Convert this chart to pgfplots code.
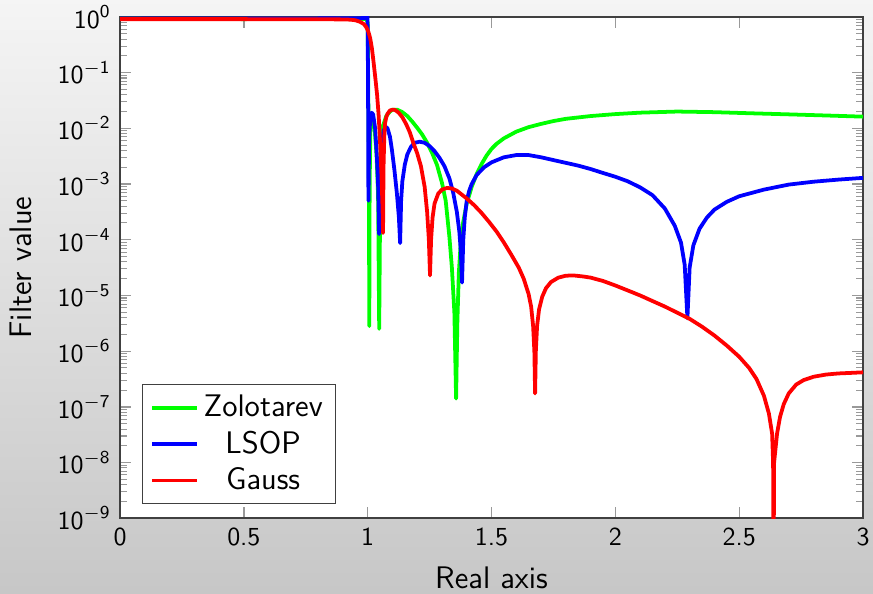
\documentclass[border=0pt]{standalone}
\usepackage{pgfplots}
\pgfplotsset{compat=1.18}
\usetikzlibrary{backgrounds}
\renewcommand{\familydefault}{\sfdefault}
\definecolor{zgreen}{RGB}{0,255,0}
\definecolor{lblue}{RGB}{0,0,255}
\definecolor{gred}{RGB}{255,0,0}
\begin{document}
\begin{tikzpicture}
\begin{axis}[
  scale only axis, width=286pt, height=193pt,
  axis background/.style={fill=white},
  ymode=log, xmin=0, xmax=3, ymin=1e-9, ymax=1,
  xtick={0,0.5,1,1.5,2,2.5,3},
  xticklabels={0,0.5,1,1.5,2,2.5,3},
  ytick={1e-9,1e-8,1e-7,1e-6,1e-5,1e-4,1e-3,1e-2,1e-1,1},
  yticklabels={$\mathsf{10}^{\mathsf{-9}}$,$\mathsf{10}^{\mathsf{-8}}$,$\mathsf{10}^{\mathsf{-7}}$,$\mathsf{10}^{\mathsf{-6}}$,$\mathsf{10}^{\mathsf{-5}}$,$\mathsf{10}^{\mathsf{-4}}$,$\mathsf{10}^{\mathsf{-3}}$,$\mathsf{10}^{\mathsf{-2}}$,$\mathsf{10}^{\mathsf{-1}}$,$\mathsf{10}^{\mathsf{0}}$},
  ticklabel style={font=\normalsize\sffamily},
  xlabel={Real axis}, ylabel={Filter value},
  xlabel shift=1.3pt, ylabel shift=3pt,
  label style={font=\large\sffamily},
  axis line style={black!75, line width=0.7pt},
  major tick style={black!40, line width=0.5pt},
  minor tick style={black!40, line width=0.4pt},
  legend style={at={(rel axis cs:0.0296,0.028)}, anchor=south west, font=\large\sffamily, draw=black!75, fill=white},
  legend cell align=center,
  every axis plot/.append style={line width=1.45pt, line join=round},
]
\addplot[zgreen] coordinates {
(0,9.23e-1) (0.5,9.12e-1) (0.95,9.23e-1) (0.995,9.12e-1) (1.000,7.94e-1) (1.003,2.0e-2) (1.005,1.0e-3) (1.0065,2.82e-6) (1.008,1.0e-3) (1.011,1e-2) (1.015,1.78e-2) (1.020,1.78e-2) (1.028,1e-2) (1.036,3.16e-3) (1.042,6.31e-4) (1.0465,2.51e-6) (1.051,1e-3) (1.056,5.01e-3) (1.062,1.12e-2) (1.075,1.66e-2) (1.09,2.0e-2) (1.10,2.16e-2) (1.12,2.16e-2) (1.14,1.95e-2) (1.16,1.66e-2) (1.18,1.32e-2) (1.20,1.02e-2) (1.22,7.76e-3) (1.24,5.50e-3) (1.26,3.63e-3) (1.28,2.19e-3) (1.30,1.05e-3) (1.315,5.01e-4) (1.33,1.12e-4) (1.34,3.16e-5) (1.35,5.01e-6) (1.357,1.41e-7) (1.362,3.16e-6) (1.368,2.51e-5) (1.375,7.94e-5) (1.385,2.0e-4) (1.40,4.47e-4) (1.42,8.91e-4) (1.44,1.51e-3) (1.46,2.29e-3) (1.48,3.24e-3) (1.50,4.27e-3) (1.52,5.25e-3) (1.55,6.61e-3) (1.60,8.71e-3) (1.65,1.05e-2) (1.70,1.20e-2) (1.75,1.35e-2) (1.80,1.48e-2) (1.9,1.66e-2) (2.0,1.80e-2) (2.1,1.91e-2) (2.25,2.0e-2) (2.4,1.95e-2) (2.55,1.86e-2) (2.7,1.78e-2) (2.85,1.70e-2) (3.0,1.62e-2)
};
\addlegendentry{Zolotarev}
\addplot[lblue] coordinates {
(0,9.33e-1) (0.5,9.33e-1) (0.95,9.44e-1) (0.99,9.55e-1) (0.998,9.77e-1) (0.999,2.0) (1.0015,6.31e-2) (1.003,5.01e-4) (1.006,6.31e-3) (1.010,1.41e-2) (1.016,1.91e-2) (1.022,1.78e-2) (1.030,1.0e-2) (1.037,3.16e-3) (1.042,1.0e-3) (1.046,1.26e-4) (1.050,1.0e-3) (1.056,3.98e-3) (1.064,8.91e-3) (1.072,1.07e-2) (1.08,1.0e-2) (1.09,7.08e-3) (1.098,4.07e-3) (1.108,1.78e-3) (1.118,6.76e-4) (1.126,2.51e-4) (1.131,8.71e-5) (1.135,5.01e-4) (1.14,1.12e-3) (1.15,2.24e-3) (1.16,3.39e-3) (1.175,4.68e-3) (1.19,5.50e-3) (1.21,5.75e-3) (1.23,5.50e-3) (1.25,4.79e-3) (1.27,3.89e-3) (1.29,2.95e-3) (1.31,2.09e-3) (1.33,1.26e-3) (1.345,7.08e-4) (1.36,3.16e-4) (1.37,1.41e-4) (1.376,6.31e-5) (1.381,1.70e-5) (1.386,1.0e-4) (1.392,2.51e-4) (1.40,5.01e-4) (1.41,7.59e-4) (1.42,1.0e-3) (1.44,1.45e-3) (1.47,2.0e-3) (1.50,2.45e-3) (1.55,3.02e-3) (1.60,3.31e-3) (1.65,3.31e-3) (1.70,3.02e-3) (1.75,2.69e-3) (1.80,2.40e-3) (1.85,2.14e-3) (1.90,1.86e-3) (1.95,1.58e-3) (2.0,1.35e-3) (2.05,1.12e-3) (2.10,8.71e-4) (2.15,6.31e-4) (2.20,3.63e-4) (2.24,1.78e-4) (2.265,8.91e-5) (2.28,3.55e-5) (2.291,3.89e-6) (2.30,3.16e-5) (2.315,7.94e-5) (2.34,1.58e-4) (2.37,2.51e-4) (2.40,3.47e-4) (2.45,4.79e-4) (2.5,6.03e-4) (2.6,7.94e-4) (2.7,9.77e-4) (2.8,1.10e-3) (2.9,1.20e-3) (3.0,1.29e-3)
};
\addlegendentry{LSOP}
\addplot[gred] coordinates {
(0,9.12e-1) (0.5,9.12e-1) (0.9,9.02e-1) (0.93,8.91e-1) (0.95,8.71e-1) (0.97,8.13e-1) (0.985,7.41e-1) (0.995,6.46e-1) (1.003,5.37e-1) (1.01,4.17e-1) (1.017,2.75e-1) (1.024,1.51e-1) (1.031,7.94e-2) (1.038,3.98e-2) (1.044,1.78e-2) (1.049,7.08e-3) (1.053,2.82e-3) (1.057,1.0e-3) (1.060,3.55e-4) (1.062,1.32e-4) (1.064,2.0e-3) (1.067,7.08e-3) (1.070,1.23e-2) (1.075,1.58e-2) (1.08,1.82e-2) (1.09,2.09e-2) (1.10,2.16e-2) (1.11,2.14e-2) (1.125,1.91e-2) (1.14,1.58e-2) (1.155,1.20e-2) (1.17,8.51e-3) (1.185,5.37e-3) (1.20,3.55e-3) (1.215,2.09e-3) (1.23,8.91e-4) (1.24,3.16e-4) (1.247,1.0e-4) (1.2517,2.29e-5) (1.256,1.0e-4) (1.262,2.51e-4) (1.27,4.47e-4) (1.285,6.76e-4) (1.30,7.94e-4) (1.32,8.51e-4) (1.34,8.32e-4) (1.36,7.59e-4) (1.38,6.46e-4) (1.40,5.50e-4) (1.43,4.17e-4) (1.46,3.02e-4) (1.49,2.09e-4) (1.52,1.41e-4) (1.55,8.91e-5) (1.58,5.37e-5) (1.61,3.16e-5) (1.63,2.0e-5) (1.65,1.05e-5) (1.66,6.31e-6) (1.668,2.82e-6) (1.673,1.0e-6) (1.676,1.74e-7) (1.679,1.0e-6) (1.684,2.82e-6) (1.692,5.62e-6) (1.705,9.55e-6) (1.72,1.35e-5) (1.74,1.74e-5) (1.77,2.09e-5) (1.80,2.26e-5) (1.83,2.29e-5) (1.87,2.19e-5) (1.9,2.09e-5) (1.95,1.82e-5) (2.0,1.51e-5) (2.05,1.23e-5) (2.1,1.0e-5) (2.15,7.94e-6) (2.2,6.31e-6) (2.25,4.90e-6) (2.3,3.80e-6) (2.35,2.75e-6) (2.4,1.91e-6) (2.45,1.26e-6) (2.5,7.94e-7) (2.54,5.01e-7) (2.57,3.16e-7) (2.60,1.58e-7) (2.62,7.59e-8) (2.633,3.31e-8) (2.637,1e-8) (2.639,1e-10) (2.641,1e-8) (2.653,3.31e-8) (2.665,6.61e-8) (2.68,1.12e-7) (2.70,1.74e-7) (2.73,2.51e-7) (2.76,3.02e-7) (2.80,3.47e-7) (2.85,3.80e-7) (2.9,3.98e-7) (2.95,4.07e-7) (3.0,4.17e-7)
};
\addlegendentry{Gauss}
\coordinate (asw) at (rel axis cs:0,0);
\coordinate (ane) at (rel axis cs:1,1);
\end{axis}
\begin{scope}[on background layer]
\shade[top color=black!4, bottom color=black!22] ([shift={(-46.2pt,-28.8pt)}]asw) rectangle ([shift={(3.85pt,6.5pt)}]ane);
\end{scope}
\pgfresetboundingbox
\path[use as bounding box] ([shift={(-46.2pt,-28.8pt)}]asw) rectangle ([shift={(3.85pt,6.5pt)}]ane);
\end{tikzpicture}
\end{document}
